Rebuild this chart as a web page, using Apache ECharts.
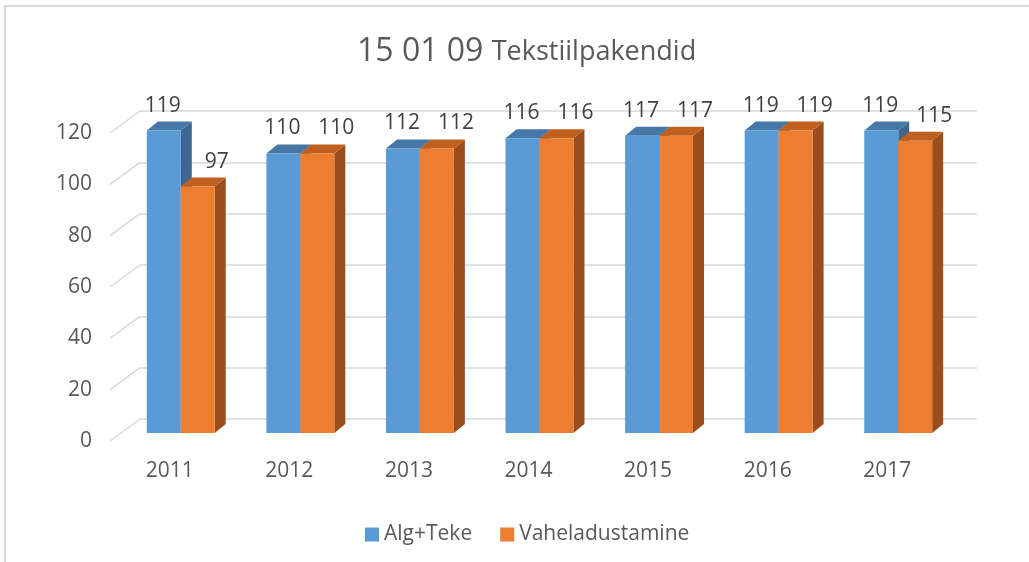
<!DOCTYPE html>
<html>
<head>
<meta charset="utf-8">
<script src="https://cdn.jsdelivr.net/npm/echarts@6/dist/echarts.min.js"></script>
<style>
  html, body { margin: 0; padding: 0; background: #ffffff; }
  #chart { width: 1029px; height: 562px; }
</style>
</head>
<body>
<div id="chart"></div>
<script>
// Data
const years = ['2011', '2012', '2013', '2014', '2015', '2016', '2017'];
const algTeke = [119, 110, 112, 116, 117, 119, 119];
const vaheladustamine = [97, 110, 112, 116, 117, 119, 115];
const yTicks = [0, 20, 40, 60, 80, 100, 120];
const seriesNames = ['Alg+Teke', 'Vaheladustamine'];

const FONT = '"Open Sans", "Noto Sans", sans-serif';
const TEXT = '#595959';
const GRID_LINE = '#d9d9d9';
// offset from the front edge of the floor to the back wall
const DEPTH = [30, -22];
// the bars occupy this slice of the depth
const BAR_FRONT = [11, -8];
const BAR_BACK = [22, -17];

const palette = [
  { front: '#5b9bd5', top: '#4677a6', side: '#3d6791' },
  { front: '#ed7d31', top: '#c0601f', side: '#9b4d1c' }
];

// a prism-like bar: side face, top face, front face and the value above it
function barItem(si, labelShift) {
  return function (params, api) {
    const cat = api.value(0);
    const v = api.value(1);
    const base = api.coord([cat, 0]);
    const tip = api.coord([cat, v]);
    const bw = api.size([1, 0])[0];
    const w = bw * 0.284;
    const x0 = base[0] + (si === 0 ? -w : 0) + BAR_FRONT[0];
    const x1 = x0 + w;
    const yb = base[1] + BAR_FRONT[1];
    const yt = yb - (base[1] - tip[1]) * 0.99;
    const dx = BAR_BACK[0] - BAR_FRONT[0];
    const dy = BAR_BACK[1] - BAR_FRONT[1];
    const c = palette[si];
    return {
      type: 'group',
      children: [
        { type: 'polygon', shape: { points: [[x1, yb], [x1 + dx, yb + dy], [x1 + dx, yt + dy], [x1, yt]] }, style: { fill: c.side } },
        { type: 'polygon', shape: { points: [[x0, yt], [x1, yt], [x1 + dx, yt + dy], [x0 + dx, yt + dy]] }, style: { fill: c.top } },
        { type: 'rect', shape: { x: x0, y: yt, width: w, height: yb - yt }, style: { fill: c.front } },
        { type: 'text', x: (x0 + x1) / 2 + labelShift, y: yt - 25,
          style: { text: String(v), align: 'center', verticalAlign: 'middle', fontSize: 21, fontFamily: FONT, fill: '#404040' } }
      ]
    };
  };
}

// slanted gridline pieces on the left wall, from the axis labels to the back wall
function diagItem(params, api) {
  const v = api.value(1);
  const p = api.coord([0, v]);
  const x = params.coordSys.x;
  return {
    type: 'line',
    shape: { x1: x, y1: p[1], x2: x + DEPTH[0], y2: p[1] + DEPTH[1] },
    style: { stroke: GRID_LINE, lineWidth: 1.5 }
  };
}

const chart = echarts.init(document.getElementById('chart'));
chart.setOption({
  animation: false,
  backgroundColor: '#ffffff',
  title: {
    text: '{a|15 01 09 }{b|Tekstiilpakendid}',
    left: 352,
    top: 31,
    textStyle: {
      fontWeight: 'normal',
      rich: {
        a: { fontSize: 32, fontWeight: 'normal', fontFamily: FONT, color: TEXT },
        b: { fontSize: 27, fontWeight: 'normal', fontFamily: FONT, color: TEXT }
      }
    }
  },
  legend: {
    data: seriesNames,
    left: 360,
    top: 519,
    icon: 'rect',
    itemWidth: 14,
    itemHeight: 14,
    itemGap: 28,
    textStyle: { fontSize: 21, fontFamily: FONT, color: TEXT }
  },
  graphic: [
    { type: 'rect', silent: true, shape: { x: 5, y: 6, width: 1100, height: 1000 },
      style: { fill: 'none', stroke: '#d9d9d9', lineWidth: 2 } }
  ],
  grid: [
    { left: 110, top: 133, width: 837, height: 308 },   // front plane
    { left: 140, top: 111, width: 837, height: 308 }    // back wall
  ],
  xAxis: [
    { type: 'category', gridIndex: 0, data: years,
      axisLine: { show: false }, axisTick: { show: false },
      axisLabel: { margin: 20, fontSize: 21, fontFamily: FONT, color: TEXT } },
    { type: 'category', gridIndex: 1, data: years, show: false }
  ],
  yAxis: [
    { type: 'value', gridIndex: 0, min: 0, max: 120, interval: 20,
      axisLine: { show: false }, axisTick: { show: false }, splitLine: { show: false },
      axisLabel: { margin: 18, fontSize: 21, fontFamily: FONT, color: TEXT } },
    { type: 'value', gridIndex: 1, min: 0, max: 120, interval: 20,
      axisLine: { show: false }, axisTick: { show: false }, axisLabel: { show: false },
      splitLine: { lineStyle: { color: GRID_LINE, width: 1.5 } } }
  ],
  series: [
    { type: 'custom', name: 'walls', silent: true, xAxisIndex: 0, yAxisIndex: 0,
      data: yTicks.map(v => [0, v]), renderItem: diagItem, z: 1 },
    { type: 'custom', name: seriesNames[0], xAxisIndex: 0, yAxisIndex: 0,
      itemStyle: { color: palette[0].front },
      data: algTeke.map((v, i) => [i, v]), renderItem: barItem(0, -1), z: 2 },
    { type: 'custom', name: seriesNames[1], xAxisIndex: 0, yAxisIndex: 0,
      itemStyle: { color: palette[1].front },
      data: vaheladustamine.map((v, i) => [i, v]), renderItem: barItem(1, 19), z: 3 }
  ]
});
</script>
</body>
</html>
